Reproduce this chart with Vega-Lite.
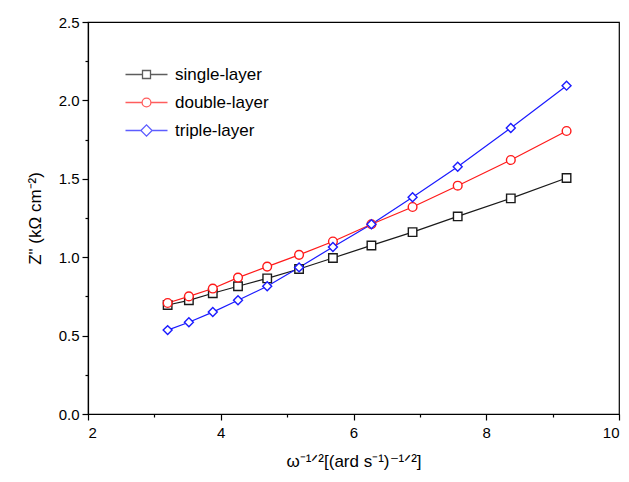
{
  "$schema": "https://vega.github.io/schema/vega-lite/v6.json",
  "width": 531,
  "height": 392,
  "autosize": "none",
  "padding": {"left": 88, "top": 22, "right": 10, "bottom": 68},
  "background": "white",
  "config": {
    "view": {"stroke": "black", "strokeWidth": 1.2},
    "font": "Liberation Sans",
    "axis": {
      "grid": false,
      "domainColor": "black",
      "domainWidth": 1.2,
      "tickColor": "black",
      "tickWidth": 1.2,
      "labelColor": "black",
      "labelFont": "Liberation Sans",
      "labelFontSize": 15,
      "titleFont": "Liberation Sans",
      "titleFontSize": 17,
      "titleFontWeight": "normal",
      "titleColor": "black"
    },
    "legend": {
      "orient": "none",
      "legendX": 34,
      "legendY": 44,
      "padding": 0,
      "title": null,
      "labelFont": "Liberation Sans",
      "labelFontSize": 17,
      "labelColor": "black",
      "symbolSize": 64,
      "symbolStrokeWidth": 1.3,
      "symbolOffset": 16,
      "labelOffset": 20,
      "rowPadding": 10
    }
  },
  "data": {
    "values": [
      {"x": 3.20, "series": "single-layer", "z": 0.695},
      {"x": 3.52, "series": "single-layer", "z": 0.725},
      {"x": 3.88, "series": "single-layer", "z": 0.77},
      {"x": 4.26, "series": "single-layer", "z": 0.815},
      {"x": 4.70, "series": "single-layer", "z": 0.865},
      {"x": 5.18, "series": "single-layer", "z": 0.925},
      {"x": 5.69, "series": "single-layer", "z": 0.995},
      {"x": 6.27, "series": "single-layer", "z": 1.075},
      {"x": 6.89, "series": "single-layer", "z": 1.16},
      {"x": 7.57, "series": "single-layer", "z": 1.26},
      {"x": 8.37, "series": "single-layer", "z": 1.375},
      {"x": 9.21, "series": "single-layer", "z": 1.505},
      {"x": 3.20, "series": "double-layer", "z": 0.708},
      {"x": 3.52, "series": "double-layer", "z": 0.75},
      {"x": 3.88, "series": "double-layer", "z": 0.80},
      {"x": 4.26, "series": "double-layer", "z": 0.87},
      {"x": 4.70, "series": "double-layer", "z": 0.94},
      {"x": 5.18, "series": "double-layer", "z": 1.015},
      {"x": 5.69, "series": "double-layer", "z": 1.10},
      {"x": 6.27, "series": "double-layer", "z": 1.21},
      {"x": 6.89, "series": "double-layer", "z": 1.32},
      {"x": 7.57, "series": "double-layer", "z": 1.456},
      {"x": 8.37, "series": "double-layer", "z": 1.62},
      {"x": 9.21, "series": "double-layer", "z": 1.805},
      {"x": 3.20, "series": "triple-layer", "z": 0.535},
      {"x": 3.52, "series": "triple-layer", "z": 0.585},
      {"x": 3.88, "series": "triple-layer", "z": 0.65},
      {"x": 4.26, "series": "triple-layer", "z": 0.725},
      {"x": 4.70, "series": "triple-layer", "z": 0.815},
      {"x": 5.18, "series": "triple-layer", "z": 0.935},
      {"x": 5.69, "series": "triple-layer", "z": 1.065},
      {"x": 6.27, "series": "triple-layer", "z": 1.21},
      {"x": 6.89, "series": "triple-layer", "z": 1.382},
      {"x": 7.57, "series": "triple-layer", "z": 1.577},
      {"x": 8.37, "series": "triple-layer", "z": 1.824},
      {"x": 9.21, "series": "triple-layer", "z": 2.094}
    ]
  },
  "encoding": {
    "x": {
      "field": "x",
      "type": "quantitative",
      "scale": {"domain": [2, 10], "nice": false, "zero": false},
      "axis": {
        "title": "ω⁻¹ᐟ²[(ard s⁻¹)⁻¹ᐟ²]",
        "values": [2, 3, 4, 5, 6, 7, 8, 9, 10],
        "format": "d",
        "labelExpr": "datum.value % 2 === 0 ? datum.label : ''",
        "tickSize": {"condition": {"test": "datum.value % 2 === 0", "value": 6}, "value": 3},
        "labelPadding": 5,
        "titlePadding": 13
      }
    },
    "y": {
      "field": "z",
      "type": "quantitative",
      "scale": {"domain": [0, 2.5], "nice": false},
      "axis": {
        "title": "Z\" (kΩ cm⁻²)",
        "values": [0, 0.25, 0.5, 0.75, 1, 1.25, 1.5, 1.75, 2, 2.25, 2.5],
        "format": ".1f",
        "labelExpr": "datum.value % 0.5 === 0 ? datum.label : ''",
        "tickSize": {"condition": {"test": "datum.value % 0.5 === 0", "value": 6}, "value": 3},
        "labelPadding": 3,
        "titlePadding": 14
      }
    }
  },
  "layer": [
    {
      "mark": {"type": "line", "strokeWidth": 1.2},
      "encoding": {
        "color": {
          "field": "series",
          "type": "nominal",
          "scale": {"domain": ["single-layer", "double-layer", "triple-layer"], "range": ["#1a1a1a", "#ff1a1a", "#1a1aff"]},
          "legend": null
        }
      }
    },
    {
      "mark": {"type": "point", "filled": false, "fill": "white", "fillOpacity": 1, "strokeWidth": 1.4, "opacity": 1},
      "encoding": {
        "stroke": {
          "field": "series",
          "type": "nominal",
          "scale": {"domain": ["single-layer", "double-layer", "triple-layer"], "range": ["#1a1a1a", "#ff1a1a", "#1a1aff"]},
          "legend": null
        },
        "shape": {
          "field": "series",
          "type": "nominal",
          "scale": {"domain": ["single-layer", "double-layer", "triple-layer"], "range": ["square", "circle", "diamond"]},
          "legend": null
        },
        "size": {
          "field": "series",
          "type": "nominal",
          "scale": {"domain": ["single-layer", "double-layer", "triple-layer"], "range": [72, 80, 150]},
          "legend": null
        }
      }
    },
    {
      "transform": [{"filter": "false"}],
      "mark": {"type": "point", "filled": false, "strokeWidth": 1.3},
      "encoding": {
        "stroke": {
          "field": "series",
          "type": "nominal",
          "scale": {"domain": ["single-layer", "double-layer", "triple-layer"], "range": ["#1a1a1a", "#ff1a1a", "#1a1aff"]},
          "legend": {"title": null}
        },
        "shape": {
          "field": "series",
          "type": "nominal",
          "scale": {"domain": ["single-layer", "double-layer", "triple-layer"], "range": [
            "M-5.25,0H-1M1,0H5.25M-1,-1H1V1H-1Z",
            "M-5.25,0H-1.1M1.1,0H5.25M-1.1,0A1.1,1.1,0,1,0,1.1,0A1.1,1.1,0,1,0,-1.1,0Z",
            "M-5.25,0H-1.4M1.4,0H5.25M-1.4,0L0,-1.4L1.4,0L0,1.4Z"
          ]},
          "legend": {"title": null}
        }
      }
    }
  ],
  "resolve": {
    "scale": {"shape": "independent", "size": "independent"},
    "legend": {"shape": "independent", "stroke": "independent", "color": "independent"}
  }
}
